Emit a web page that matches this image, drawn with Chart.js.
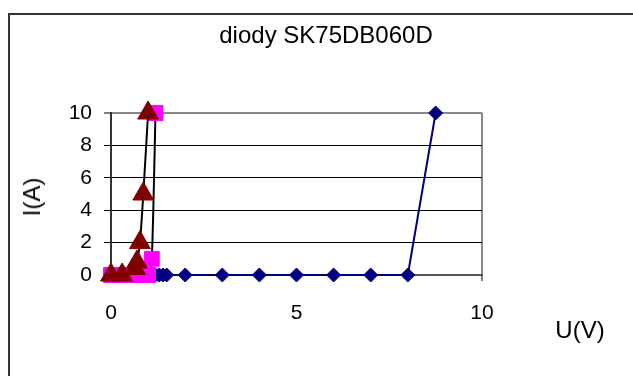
<!DOCTYPE html>
<html>
<head>
<meta charset="utf-8">
<script src="https://cdn.jsdelivr.net/npm/chart.js@4"></script>
<style>
  html, body { margin: 0; padding: 0; background: #fff; }
  #wrap { position: relative; width: 633px; height: 376px; overflow: hidden; font-family: "Liberation Sans", Arial, sans-serif; color: #000; }
  #frame { position: absolute; left: 8px; top: 13px; width: 640px; height: 380px; border-left: 2px solid #333; border-top: 2px solid #333; }
  canvas { position: absolute; left: 0; top: 0; }
  .lbl { position: absolute; white-space: nowrap; transform: translate(-50%, -50%); }
  #title { left: 326px; top: 35px; font-size: 24px; }
  #ylab { left: 32px; top: 197px; font-size: 24px; transform: translate(-50%, -50%) rotate(-90deg); }
  #xlab { left: 580px; top: 330px; font-size: 24px; }
</style>
</head>
<body>
<div id="wrap">
  <div id="frame"></div>
  <canvas id="chart" width="633" height="376"></canvas>
  <div class="lbl" id="title">diody SK75DB060D</div>
  <div class="lbl" id="ylab">I(A)</div>
  <div class="lbl" id="xlab">U(V)</div>
</div>
<script>
const blueU = [0, 0.2, 0.4, 0.6, 0.8, 1.0, 1.1, 1.2, 1.3, 1.4, 1.5, 2, 3, 4, 5, 6, 7, 8, 8.75];
const blueI = [0, 0, 0, 0, 0, 0, 0, 0, 0, 0, 0, 0, 0, 0, 0, 0, 0, 0, 10];

const pinkU = [0, 0.2, 0.4, 0.6, 0.8, 1.0, 1.1, 1.2];
const pinkI = [0, 0, 0, 0, 0, 0, 1, 10];

const redU = [0, 0.3, 0.65, 0.7, 0.78, 0.87, 1.0];
const redI = [0, 0, 0.4, 0.8, 2, 5, 10];

const xTicks = [0, 5, 10];
const yTicks = [0, 2, 4, 6, 8, 10];

const toPoints = (xs, ys) => xs.map((x, i) => ({ x, y: ys[i] }));

const font = { family: "'Liberation Sans', Arial, sans-serif", size: 21 };

new Chart(document.getElementById("chart"), {
  type: "scatter",
  data: {
    datasets: [
      {
        data: toPoints(redU, redI),
        showLine: true,
        clip: false,
        borderColor: "#000000",
        borderWidth: 2,
        pointStyle: "triangle",
        pointRadius: 12,
        pointBackgroundColor: "#800000",
        pointBorderColor: "#800000",
        pointBorderWidth: 1,
        tension: 0.3,
        order: 1,
      },
      {
        data: toPoints(pinkU, pinkI),
        showLine: true,
        clip: false,
        borderColor: "#000000",
        borderWidth: 2,
        pointStyle: "rect",
        pointRadius: 10.5,
        pointBackgroundColor: "#ff00ff",
        pointBorderColor: "#ff00ff",
        pointBorderWidth: 1,
        tension: 0.2,
        order: 2,
      },
      {
        data: toPoints(blueU, blueI),
        showLine: true,
        clip: false,
        borderColor: "#000080",
        borderWidth: 2,
        pointStyle: "rectRot",
        pointRadius: 7,
        pointBackgroundColor: "#000080",
        pointBorderColor: "#000080",
        pointBorderWidth: 1,
        order: 3,
      },
    ],
  },
  options: {
    responsive: false,
    animation: false,
    layout: { padding: { top: 113, right: 151, left: 0, bottom: 0 } },
    plugins: { legend: { display: false }, tooltip: { enabled: false } },
    scales: {
      x: {
        type: "linear",
        min: 0,
        max: 10,
        afterFit: (s) => { s.height = 101; },
        afterBuildTicks: (s) => { s.ticks = xTicks.map((v) => ({ value: v })); },
        ticks: { font, color: "#000", padding: 20, maxRotation: 0 },
        border: { color: "#555", width: 2 },
        grid: {
          color: (c) => (c.tick && c.tick.value === 10 ? "#888" : "rgba(0,0,0,0)"),
          lineWidth: 2,
          tickColor: "#000",
          tickLength: 6,
          tickWidth: 1,
        },
      },
      y: {
        min: 0,
        max: 10,
        afterFit: (s) => { s.width = 111; },
        afterBuildTicks: (s) => { s.ticks = yTicks.map((v) => ({ value: v })); },
        ticks: { font, color: "#000", padding: 12 },
        border: { color: "#333", width: 2 },
        grid: {
          color: (c) => {
            const v = c.tick && c.tick.value;
            if (v === 0) return "rgba(0,0,0,0)";
            if (v === 10) return "#888";
            return "#000";
          },
          lineWidth: (c) => (c.tick && c.tick.value === 10 ? 2 : 1),
          tickColor: "#000",
          tickLength: 7,
          tickWidth: 1,
        },
      },
    },
  },
});
</script>
</body>
</html>
